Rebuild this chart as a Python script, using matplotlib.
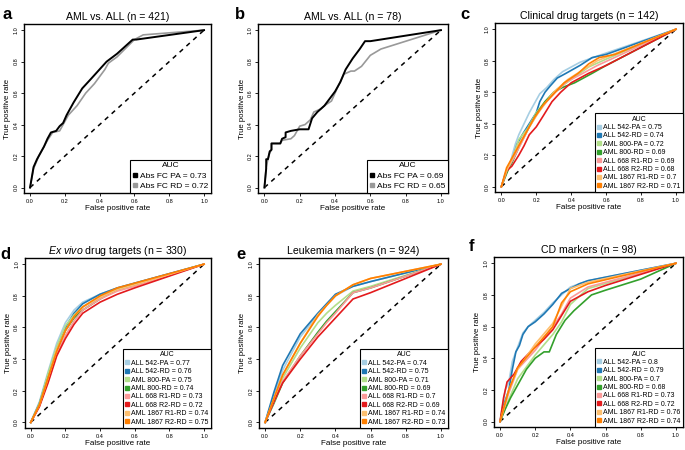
import matplotlib.pyplot as plt
from matplotlib.lines import Line2D

plt.rcParams['font.family'] = ['Liberation Sans', 'DejaVu Sans']
plt.rcParams['mathtext.fontset'] = 'custom'
plt.rcParams['mathtext.rm'] = 'Liberation Sans'
plt.rcParams['mathtext.it'] = 'Liberation Sans:italic'

# ---- data ----
paired = ["#A6CEE3", "#1F78B4", "#B2DF8A", "#33A02C",
          "#FB9A99", "#E31A1C", "#FDBF6F", "#FF7F00"]
cell_names = ["ALL 542-PA", "ALL 542-RD", "AML 800-PA", "AML 800-RD",
              "ALL 668 R1-RD", "ALL 668 R2-RD", "AML 1867 R1-RD", "AML 1867 R2-RD"]
abs_names = ["Abs FC PA", "Abs FC RD"]

# panel a
a_fpr = [[0, 0.02, 0.04, 0.06, 0.08, 0.10, 0.12, 0.15, 0.17, 0.19, 0.21, 0.25, 0.30,
          0.35, 0.44, 0.50, 0.59, 0.61, 1.0],
         [0, 0.02, 0.05, 0.08, 0.10, 0.13, 0.17, 0.19, 0.22, 0.27, 0.32, 0.37, 0.43,
          0.45, 0.50, 0.60, 0.65, 1.0]]
a_tpr = [[0, 0.13, 0.18, 0.22, 0.26, 0.31, 0.35, 0.36, 0.39, 0.41, 0.46, 0.54, 0.63,
          0.69, 0.80, 0.85, 0.94, 0.94, 1.0],
         [0, 0.12, 0.20, 0.26, 0.30, 0.35, 0.36, 0.40, 0.46, 0.52, 0.60, 0.66, 0.75,
          0.79, 0.83, 0.94, 0.97, 1.0]]
a_auc = [0.73, 0.72]

# panel b
b_fpr = [[0, 0.01, 0.01, 0.02, 0.03, 0.04, 0.04, 0.09, 0.10, 0.12, 0.12, 0.15, 0.20,
          0.25, 0.27, 0.30, 0.34, 0.36, 0.40, 0.43, 0.46, 0.50, 0.54, 0.57, 0.60, 1.0],
         [0, 0.01, 0.02, 0.03, 0.04, 0.04, 0.09, 0.10, 0.15, 0.17, 0.20, 0.23, 0.26,
          0.28, 0.32, 0.34, 0.38, 0.40, 0.42, 0.45, 0.49, 0.51, 0.55, 0.60, 0.66, 1.0]]
b_tpr = [[0, 0.12, 0.18, 0.18, 0.23, 0.24, 0.28, 0.28, 0.31, 0.32, 0.35, 0.36, 0.37,
          0.37, 0.44, 0.48, 0.52, 0.55, 0.61, 0.67, 0.75, 0.82, 0.88, 0.93, 0.93, 1.0],
         [0, 0.13, 0.18, 0.22, 0.24, 0.28, 0.28, 0.30, 0.31, 0.33, 0.39, 0.40, 0.43,
          0.48, 0.50, 0.52, 0.55, 0.60, 0.65, 0.72, 0.74, 0.74, 0.77, 0.84, 0.88, 1.0]]
b_auc = [0.69, 0.65]

# panel c
c_fpr = [[0, 0.02, 0.05, 0.08, 0.10, 0.13, 0.16, 0.19, 0.22, 0.26, 0.30, 0.35, 0.45, 0.55, 1.0],
         [0, 0.03, 0.06, 0.09, 0.12, 0.16, 0.20, 0.22, 0.25, 0.28, 0.32, 0.37, 0.45, 0.52, 0.60, 1.0],
         [0, 0.03, 0.07, 0.10, 0.15, 0.20, 0.25, 0.32, 0.40, 0.50, 0.60, 1.0],
         [0, 0.04, 0.06, 0.10, 0.15, 0.20, 0.25, 0.30, 0.35, 0.42, 0.52, 0.60, 1.0],
         [0, 0.03, 0.07, 0.12, 0.16, 0.21, 0.26, 0.31, 0.38, 0.45, 0.55, 1.0],
         [0, 0.03, 0.06, 0.10, 0.13, 0.16, 0.20, 0.24, 0.29, 0.34, 0.40, 0.50, 0.60, 1.0],
         [0, 0.03, 0.07, 0.10, 0.15, 0.20, 0.25, 0.30, 0.38, 0.45, 0.55, 1.0],
         [0, 0.03, 0.06, 0.10, 0.14, 0.19, 0.24, 0.30, 0.36, 0.44, 0.50, 0.56, 0.65, 1.0]]
c_tpr = [[0, 0.08, 0.15, 0.27, 0.33, 0.40, 0.47, 0.53, 0.59, 0.63, 0.68, 0.73, 0.79, 0.83, 1.0],
         [0, 0.10, 0.16, 0.27, 0.33, 0.40, 0.47, 0.54, 0.60, 0.64, 0.69, 0.72, 0.77, 0.82, 0.84, 1.0],
         [0, 0.10, 0.20, 0.30, 0.37, 0.47, 0.54, 0.62, 0.68, 0.76, 0.81, 1.0],
         [0, 0.11, 0.15, 0.25, 0.36, 0.46, 0.54, 0.60, 0.63, 0.66, 0.72, 0.77, 1.0],
         [0, 0.10, 0.18, 0.29, 0.38, 0.47, 0.54, 0.60, 0.67, 0.71, 0.77, 1.0],
         [0, 0.10, 0.13, 0.20, 0.26, 0.33, 0.38, 0.45, 0.54, 0.60, 0.66, 0.72, 0.77, 1.0],
         [0, 0.10, 0.20, 0.27, 0.36, 0.45, 0.53, 0.60, 0.68, 0.73, 0.80, 1.0],
         [0, 0.12, 0.18, 0.26, 0.34, 0.44, 0.52, 0.59, 0.66, 0.72, 0.78, 0.82, 0.84, 1.0]]
c_auc = [0.75, 0.74, 0.72, 0.69, 0.69, 0.68, 0.7, 0.71]

# panel d
d_fpr = [[0, 0.05, 0.10, 0.15, 0.20, 0.25, 0.30, 0.40, 0.50, 0.60, 1.0]] * 8
d_tpr = [[0, 0.13, 0.32, 0.50, 0.63, 0.71, 0.76, 0.81, 0.85, 0.88, 1.0],
         [0, 0.12, 0.30, 0.47, 0.60, 0.69, 0.75, 0.81, 0.85, 0.88, 1.0],
         [0, 0.12, 0.31, 0.48, 0.61, 0.68, 0.73, 0.79, 0.84, 0.87, 1.0],
         [0, 0.11, 0.28, 0.45, 0.58, 0.66, 0.71, 0.78, 0.84, 0.87, 1.0],
         [0, 0.10, 0.26, 0.43, 0.55, 0.64, 0.71, 0.78, 0.83, 0.86, 1.0],
         [0, 0.10, 0.25, 0.42, 0.53, 0.62, 0.69, 0.76, 0.81, 0.85, 1.0],
         [0, 0.11, 0.28, 0.46, 0.58, 0.67, 0.73, 0.79, 0.84, 0.87, 1.0],
         [0, 0.11, 0.28, 0.45, 0.58, 0.67, 0.73, 0.80, 0.85, 0.88, 1.0]]
d_auc = [0.77, 0.76, 0.75, 0.74, 0.73, 0.72, 0.74, 0.75]

# panel e
e_fpr = [[0, 0.05, 0.10, 0.20, 0.30, 0.35, 0.40, 0.50, 0.60, 1.0]] * 8
e_tpr = [[0, 0.17, 0.33, 0.54, 0.68, 0.74, 0.80, 0.86, 0.89, 1.0],
         [0, 0.19, 0.36, 0.56, 0.69, 0.75, 0.81, 0.86, 0.89, 1.0],
         [0, 0.14, 0.28, 0.47, 0.63, 0.69, 0.74, 0.83, 0.86, 1.0],
         [0, 0.12, 0.25, 0.42, 0.57, 0.64, 0.70, 0.82, 0.85, 1.0],
         [0, 0.13, 0.26, 0.42, 0.56, 0.63, 0.69, 0.82, 0.85, 1.0],
         [0, 0.13, 0.25, 0.40, 0.54, 0.60, 0.66, 0.78, 0.82, 1.0],
         [0, 0.15, 0.30, 0.50, 0.68, 0.74, 0.80, 0.87, 0.91, 1.0],
         [0, 0.15, 0.30, 0.50, 0.67, 0.74, 0.80, 0.87, 0.91, 1.0]]
e_auc = [0.74, 0.75, 0.71, 0.69, 0.7, 0.69, 0.74, 0.73]

# panel f
f_fpr = [[0, 0.03, 0.05, 0.07, 0.09, 0.11, 0.13, 0.16, 0.20, 0.25, 0.30, 0.35, 0.40, 0.50, 1.0],
         [0, 0.02, 0.05, 0.07, 0.09, 0.11, 0.13, 0.16, 0.20, 0.25, 0.30, 0.35, 0.40, 0.45, 0.50, 1.0],
         [0, 0.05, 0.10, 0.20, 0.30, 0.35, 0.40, 0.50, 1.0],
         [0, 0.03, 0.06, 0.10, 0.15, 0.20, 0.25, 0.28, 0.32, 0.37, 0.42, 0.52, 0.60, 0.80, 1.0],
         [0, 0.05, 0.10, 0.20, 0.30, 0.35, 0.40, 0.50, 1.0],
         [0, 0.02, 0.04, 0.08, 0.12, 0.18, 0.25, 0.30, 0.35, 0.40, 0.50, 0.60, 1.0],
         [0, 0.05, 0.10, 0.20, 0.30, 0.35, 0.40, 0.50, 1.0],
         [0, 0.05, 0.10, 0.20, 0.30, 0.35, 0.40, 0.50, 1.0]]
f_tpr = [[0, 0.20, 0.25, 0.38, 0.44, 0.50, 0.56, 0.60, 0.64, 0.69, 0.75, 0.80, 0.85, 0.89, 1.0],
         [0, 0.10, 0.20, 0.33, 0.44, 0.48, 0.55, 0.60, 0.63, 0.68, 0.74, 0.81, 0.84, 0.87, 0.89, 1.0],
         [0, 0.14, 0.27, 0.42, 0.55, 0.63, 0.74, 0.84, 1.0],
         [0, 0.08, 0.15, 0.23, 0.33, 0.40, 0.44, 0.44, 0.55, 0.64, 0.70, 0.80, 0.83, 0.90, 1.0],
         [0, 0.18, 0.33, 0.45, 0.60, 0.68, 0.78, 0.85, 1.0],
         [0, 0.15, 0.25, 0.30, 0.38, 0.45, 0.52, 0.58, 0.67, 0.76, 0.82, 0.86, 1.0],
         [0, 0.20, 0.33, 0.49, 0.62, 0.73, 0.84, 0.88, 1.0],
         [0, 0.20, 0.34, 0.47, 0.60, 0.75, 0.82, 0.87, 1.0]]
f_auc = [0.8, 0.79, 0.7, 0.68, 0.73, 0.72, 0.76, 0.74]

titles = ["AML vs. ALL (n = 421)", "AML vs. ALL (n = 78)", "Clinical drug targets (n = 142)",
          r"$\it{Ex\ vivo}$ drug targets (n = 330)", "Leukemia markers (n = 924)",
          "CD markers (n = 98)"]
letters = ["a", "b", "c", "d", "e", "f"]

# ---- figure ----
fig = plt.figure(figsize=(6.85, 4.5), dpi=100)

boxes = [[0.035, 0.571, 0.273, 0.376], [0.377, 0.571, 0.277, 0.376],
         [0.723, 0.573, 0.274, 0.376], [0.036, 0.049, 0.272, 0.378],
         [0.378, 0.049, 0.276, 0.378], [0.721, 0.051, 0.276, 0.378]]
letter_pos = [(0.003, 0.985), (0.343, 0.985), (0.672, 0.985),
              (0.0, 0.452), (0.345, 0.452), (0.684, 0.468)]

panels = [(a_fpr, a_tpr, a_auc, ["black", "#999999"], abs_names),
          (b_fpr, b_tpr, b_auc, ["black", "#999999"], abs_names),
          (c_fpr, c_tpr, c_auc, paired, cell_names),
          (d_fpr, d_tpr, d_auc, paired, cell_names),
          (e_fpr, e_tpr, e_auc, paired, cell_names),
          (f_fpr, f_tpr, f_auc, paired, cell_names)]

for i, (fpr, tpr, auc, cols, names) in enumerate(panels):
    ax = fig.add_axes(boxes[i])
    ax.plot([0, 1], [0, 1], color="black", ls=(0, (3, 3)), lw=1.1)
    two = len(names) == 2
    # black curve on top in panels a/b
    order = [1, 0] if two else range(len(fpr))
    for k in order:
        ax.plot(fpr[k], tpr[k], color=cols[k], lw=1.4 if (two and k == 0) else 1.2)
    ax.set_xlim(-0.035, 1.04)
    ax.set_ylim(-0.035, 1.04)
    ticks = [0, 0.2, 0.4, 0.6, 0.8, 1.0]
    ax.set_xticks(ticks)
    ax.set_yticks(ticks)
    ax.set_xticklabels(["%.1f" % t for t in ticks], fontsize=4)
    ax.set_yticklabels(["%.1f" % t for t in ticks], fontsize=4, rotation=90, va="center")
    ax.tick_params(length=2.5, width=0.6, pad=1.5)
    for s in ax.spines.values():
        s.set_linewidth(1.0)
    ax.set_xlabel("False positive rate", fontsize=5.8, labelpad=1)
    ax.set_ylabel("True positive rate", fontsize=5.6, labelpad=1.5)
    ax.set_title(titles[i], fontsize=7.6, pad=3)

    handles = [Line2D([], [], color=cols[k], marker="s", ls="none", markersize=2.2)
               for k in range(len(names))]
    labels = ["%s = %s" % (names[k], auc[k]) for k in range(len(names))]
    fs = 6.0 if two else 5.0
    leg = ax.legend(handles, labels, title="AUC", loc="lower right", fontsize=fs,
                    title_fontsize=fs, borderaxespad=0, fancybox=False,
                    edgecolor="black", framealpha=1, handlelength=0.5,
                    handletextpad=0.3, labelspacing=0.3 if two else 0.2,
                    borderpad=0.35)
    leg.get_frame().set_linewidth(0.8)

    fig.text(letter_pos[i][0], letter_pos[i][1], letters[i], fontsize=12,
             fontweight="bold", va="top", ha="left")

fig.savefig("out.png", dpi=100)
